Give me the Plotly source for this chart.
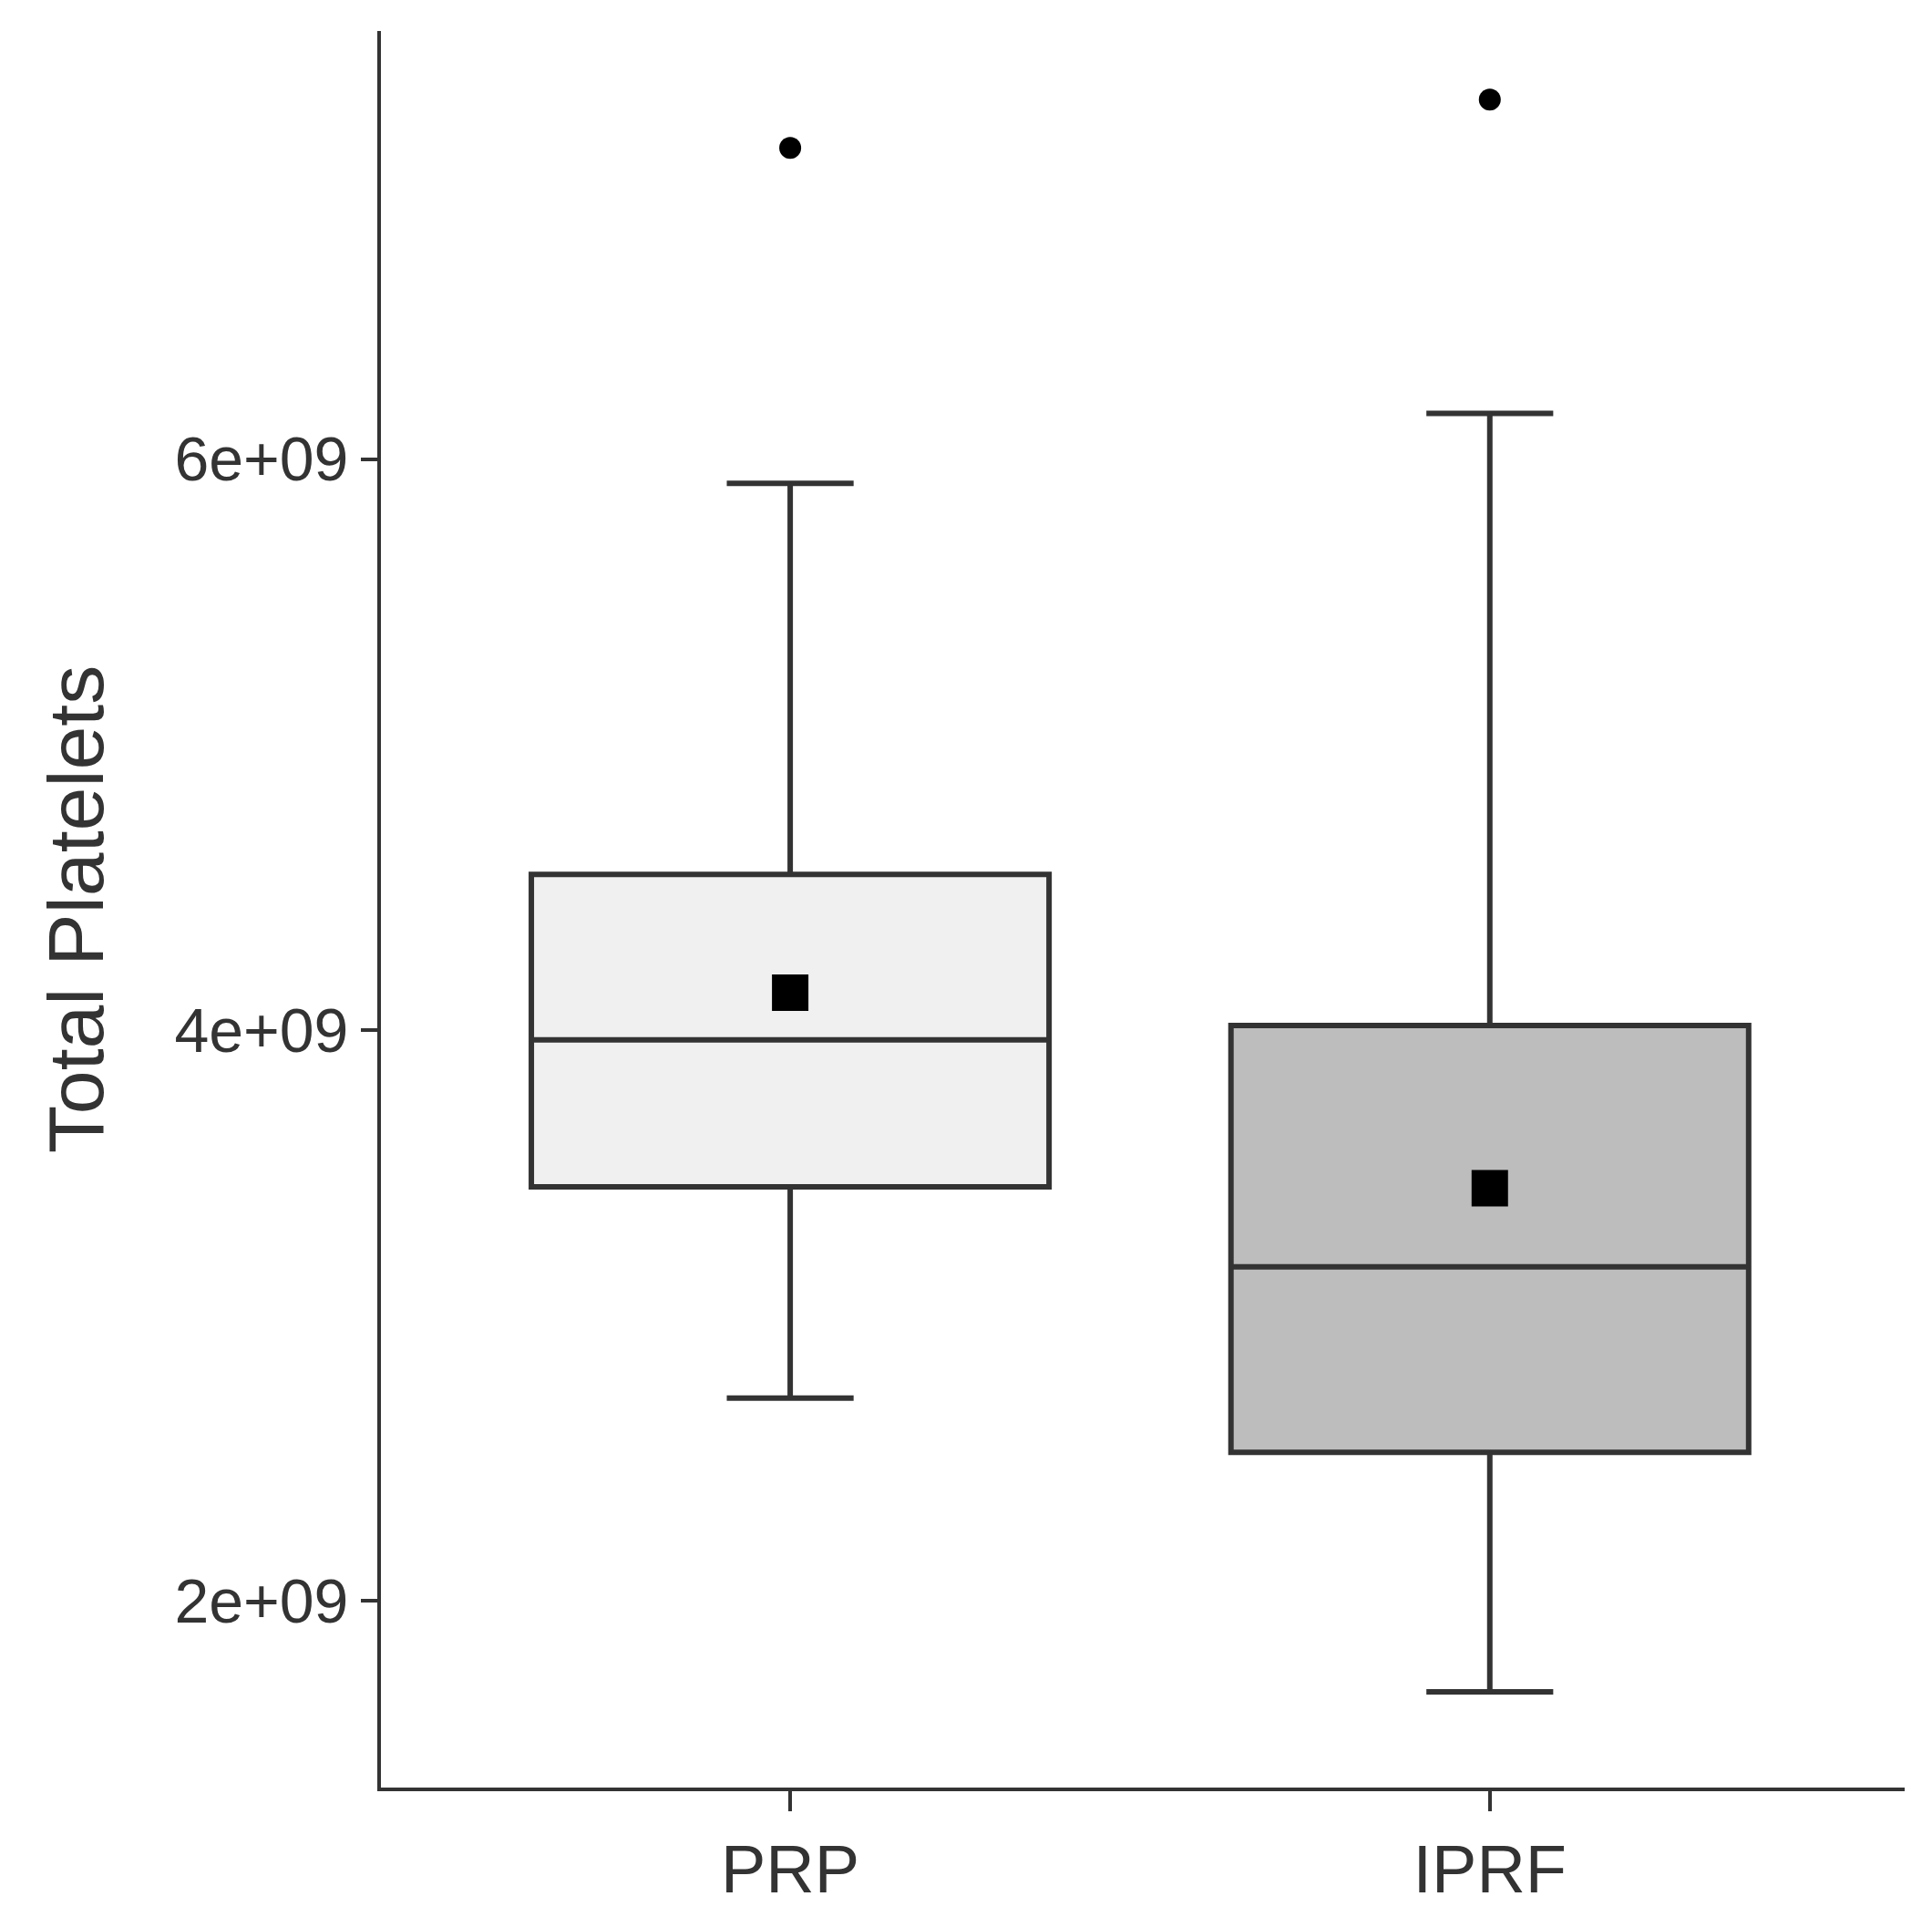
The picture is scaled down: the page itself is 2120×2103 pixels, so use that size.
import plotly.graph_objects as go

groups = ["PRP", "IPRF"]
q1 = [3.45e9, 2.52e9]
medians = [3.965e9, 3.17e9]
q3 = [4.545e9, 4.015e9]
lower = [2.71e9, 1.68e9]
upper = [5.915e9, 6.16e9]
means = [4.13e9, 3.445e9]
outliers = [7.09e9, 7.26e9]
fills = ["#f0f0f0", "#bdbdbd"]

fig = go.Figure()
for i, g in enumerate(groups):
    fig.add_trace(go.Box(
        x=[g], q1=[q1[i]], median=[medians[i]], q3=[q3[i]],
        lowerfence=[lower[i]], upperfence=[upper[i]],
        fillcolor=fills[i], line=dict(color="#333333", width=6),
        width=0.74, whiskerwidth=0.245, boxpoints=False, showlegend=False,
    ))

fig.add_trace(go.Scatter(x=groups, y=means, mode="markers",
                         marker=dict(symbol="square", size=40, color="black"),
                         showlegend=False))
fig.add_trace(go.Scatter(x=groups, y=outliers, mode="markers",
                         marker=dict(symbol="circle", size=24, color="black"),
                         showlegend=False))

fig.update_layout(
    width=2120, height=2103,
    paper_bgcolor="white", plot_bgcolor="white",
    margin=dict(l=410, r=38, t=26, b=150),
    font=dict(family="Liberation Sans, Arial", color="#333333"),
)
fig.update_xaxes(range=[-0.585, 1.593], showline=True, linecolor="#333333", linewidth=4,
                 ticks="outside", ticklen=22, tickwidth=4, tickcolor="#333333",
                 tickfont=dict(size=74), showgrid=False, zeroline=False)
fig.update_yaxes(range=[1.345e9, 7.5e9], tickvals=[2e9, 4e9, 6e9],
                 ticktext=["2e+09", "4e+09", "6e+09"],
                 showline=True, linecolor="#333333", linewidth=4,
                 ticks="outside", ticklen=18, tickwidth=4, tickcolor="#333333",
                 tickfont=dict(size=68), showgrid=False, zeroline=False,
                 title=dict(text="Total Platelets", font=dict(size=86), standoff=50))

fig.write_html("out.html")
